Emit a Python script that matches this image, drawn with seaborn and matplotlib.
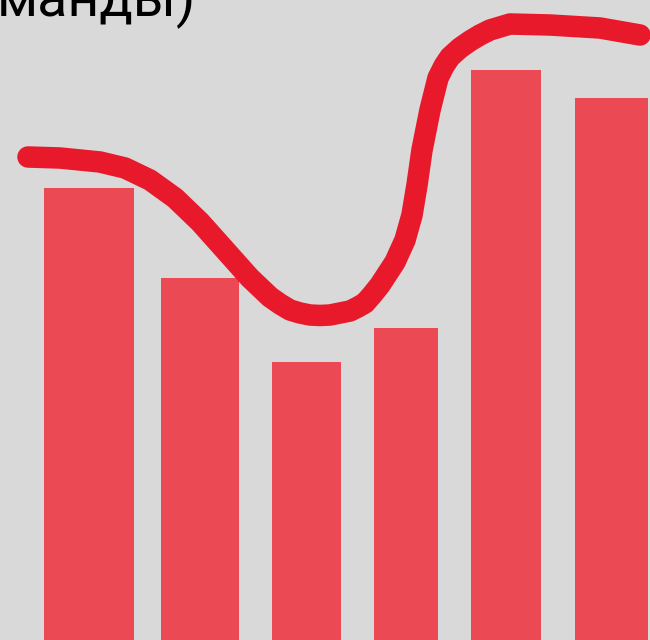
import numpy as np
import pandas as pd
import matplotlib.pyplot as plt
import seaborn as sns

# ---------- Data ----------
bar_values = [45.2, 36.2, 27.8, 31.2, 57.0, 54.2]

line_x = [28, 60, 100, 125, 150, 175, 200, 225, 250, 270, 280, 290, 300, 310,
          320, 330, 340, 350, 358, 365, 372, 380, 395, 405, 412, 417, 422,
          430, 438, 444, 450, 460, 470, 480, 490, 510, 550, 600, 640]
line_y = [48.3, 48.2, 47.8, 47.2, 46.0, 44.2, 41.8, 39.0, 36.2, 34.3, 33.6,
          33.0, 32.7, 32.5, 32.45, 32.5, 32.7, 32.9, 33.3, 33.7, 34.5, 35.5,
          37.8, 40.0, 42.5, 45.5, 49.0, 53.0, 56.2, 57.4, 58.3, 59.2, 59.9,
          60.5, 61.0, 61.6, 61.5, 61.2, 60.5]

title_tail = "манды)"

# ---------- Layout ----------
bar_centers = [89, 200, 306.5, 406, 506, 611.5]
bar_widths = [90, 78, 69, 64, 70, 73]

bg = '#d9d9d9'
bar_color = '#eb4a55'
line_color = '#e8192a'

sns.set_theme(style='white')
plt.rcParams['font.family'] = ['Roboto', 'DejaVu Sans']

fig = plt.figure(figsize=(6.5, 6.4), dpi=100)
fig.patch.set_facecolor(bg)
ax = fig.add_axes([0, 0, 1, 1])
ax.set_facecolor(bg)

ax.bar(bar_centers, bar_values, width=bar_widths, color=bar_color,
       linewidth=0, zorder=2)

sns.lineplot(x=line_x, y=line_y, sort=False, estimator=None, ax=ax,
             color=line_color, linewidth=15.5, solid_capstyle='round',
             solid_joinstyle='round', zorder=3)

ax.set_xlim(0, 650)
ax.set_ylim(0, 64)
ax.axis('off')

fig.text(196 / 650, 1 - 16 / 640, title_tail, ha='right', va='baseline',
         fontsize=40, color='black')

plt.savefig('out.png', dpi=100, facecolor=bg)
